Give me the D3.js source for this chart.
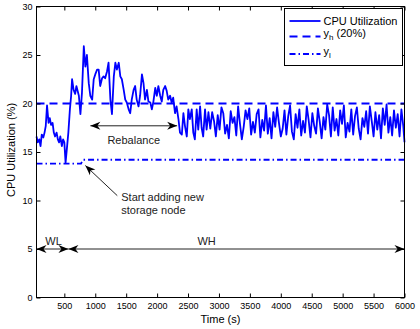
<!DOCTYPE html>
<html>
<head>
<meta charset="utf-8">
<script src="https://cdn.jsdelivr.net/npm/d3@7"></script>
<style>
  body { margin: 0; background: #fff; }
  svg { font-family: "Liberation Sans", Arial, Helvetica, sans-serif; }
</style>
</head>
<body>
<svg id="chart" width="420" height="329"></svg>
<script>

// CPU utilization trace, [time (s), utilization (%)]
const cpuTrace = [
  [50,16.6],[70,16.0],[95,16.3],[115,15.6],[135,16.8],[160,16.5],[180,17.0],[200,17.7],
  [220,19.8],[245,18.0],[265,18.5],[285,17.8],[310,18.0],[330,17.0],[350,16.6],[375,17.0],
  [395,16.3],[415,16.0],[435,16.6],[460,15.6],[480,16.3],[500,16.0],[520,13.9],[545,15.6],
  [565,17.0],[590,19.4],[610,20.8],[625,22.5],[650,21.4],[675,21.0],[695,21.8],[735,20.8],
  [760,18.9],[785,21.1],[815,25.9],[840,23.8],[865,25.0],[895,22.1],[920,20.8],[950,20.4],
  [975,22.5],[1000,23.0],[1030,23.5],[1055,23.5],[1080,21.8],[1110,22.6],[1135,22.8],[1160,22.6],
  [1190,23.3],[1215,24.2],[1245,20.4],[1270,18.9],[1300,22.8],[1325,24.2],[1350,23.5],[1380,24.2],
  [1405,22.8],[1430,22.5],[1460,21.4],[1485,20.4],[1510,20.1],[1540,19.4],[1565,19.0],[1590,20.4],
  [1620,21.4],[1645,21.8],[1670,20.4],[1700,19.7],[1725,20.8],[1755,23.0],[1780,22.1],[1805,20.4],
  [1835,21.4],[1860,20.2],[1890,20.1],[1915,19.4],[1940,20.2],[1970,21.6],[1995,20.8],[2020,21.8],
  [2050,20.8],[2075,20.2],[2100,21.4],[2130,21.8],[2155,21.3],[2180,20.4],[2210,20.8],[2235,20.1],
  [2260,20.6],[2290,19.0],[2315,19.7],[2345,18.4],[2370,17.0],[2400,16.8],[2425,19.0],[2450,17.7],
  [2480,16.6],[2505,19.4],[2530,18.4],[2560,19.4],[2585,17.0],[2610,16.3],[2640,19.4],[2665,17.3],
  [2695,19.7],[2720,17.5],[2745,16.6],[2775,19.4],[2800,17.3],[2830,19.1],
  [2860,17.4],[2890,19.1],[2920,18.2],[2950,16.6],[2980,18.8],[3010,17.3],[3040,19.6],[3070,19.0],
  [3100,16.9],[3130,17.8],[3160,16.4],[3190,19.2],[3220,18.0],[3250,18.6],[3280,16.7],[3310,19.7],
  [3340,17.9],[3370,16.3],[3400,17.6],[3430,19.3],[3460,18.4],[3490,19.5],[3520,16.8],[3550,18.1],
  [3580,17.0],[3610,18.9],[3640,19.4],[3670,16.5],[3700,18.3],[3730,17.2],[3760,19.8],[3790,16.9],
  [3820,18.5],[3850,16.4],[3880,19.1],[3910,17.6],[3940,19.6],[3970,18.0],[4000,16.6],[4030,17.4],
  [4060,19.3],[4090,16.8],[4120,18.7],[4150,19.8],[4180,17.1],[4210,16.3],[4240,18.9],[4270,17.5],
  [4300,19.4],[4330,16.7],[4360,18.2],[4390,17.0],[4420,19.7],[4450,18.3],[4480,16.5],[4510,19.0],
  [4540,17.7],[4570,16.9],[4600,19.5],[4630,18.1],[4660,16.4],[4690,18.6],[4720,17.3],[4750,19.9],
  [4780,18.8],[4810,16.6],[4840,19.6],[4870,17.2],[4900,18.4],[4930,16.7],[4960,19.3],[4990,17.9],
  [5020,19.8],[5050,16.5],[5080,18.0],[5110,17.1],[5140,19.4],[5170,16.8],[5200,18.7],[5230,19.6],
  [5260,17.4],[5290,16.3],[5320,18.5],[5350,17.6],[5380,19.2],[5410,16.9],[5440,19.7],[5470,18.2],
  [5500,16.6],[5530,19.1],[5560,17.3],[5590,18.8],[5620,16.4],[5650,19.5],[5680,17.8],[5710,19.9],
  [5740,17.0],[5770,18.6],[5800,16.7],[5830,19.3],[5860,17.5],[5890,18.9],[5920,16.6],[5950,19.4],
  [5980,17.7],[6000,16.0]
];

// thresholds
const yhLevel = [[50, 20], [6000, 20]];
const ylLevel = [[50, 13.8], [770, 13.8], [800, 14.2], [6000, 14.2]];

// axes
const xTicks = [500, 1000, 1500, 2000, 2500, 3000, 3500, 4000, 4500, 5000, 5500, 6000];
const yTicks = [0, 5, 10, 15, 20, 25, 30];
const xDomain = [50, 6000];
const yDomain = [0, 30];

// workload phases at y = 5
const phases = [
  {label: "WL", from: 50, to: 566},
  {label: "WH", from: 566, to: 6000}
];

var svg = d3.select("#chart");
var pLeft = 36.5, pRight = 404.5, pTop = 6.5, pBottom = 297.5;

var x = d3.scaleLinear().domain(xDomain).range([pLeft, pRight]);
var y = d3.scaleLinear().domain(yDomain).range([pBottom, pTop]);

var blue = "#0000ff";

// arrow heads
var defs = svg.append("defs");
defs.append("marker")
  .attr("id", "head")
  .attr("viewBox", "-11 -5 12 10")
  .attr("refX", 0).attr("refY", 0)
  .attr("markerWidth", 12).attr("markerHeight", 10)
  .attr("markerUnits", "userSpaceOnUse")
  .attr("orient", "auto-start-reverse")
  .append("path")
  .attr("d", "M0,0 L-10,-4 L-7,0 L-10,4 Z")
  .attr("fill", "#000");

// series
var line = d3.line()
  .x(d => x(d[0]))
  .y(d => y(d[1]));

svg.append("path")
  .datum(yhLevel)
  .attr("d", line)
  .attr("fill", "none")
  .attr("stroke", blue)
  .attr("stroke-width", 1.8)
  .attr("stroke-dasharray", "8,5");

svg.append("path")
  .datum(ylLevel)
  .attr("d", line)
  .attr("fill", "none")
  .attr("stroke", blue)
  .attr("stroke-width", 1.8)
  .attr("stroke-dasharray", "6,3,1.5,3");

svg.append("path")
  .datum(cpuTrace)
  .attr("d", line)
  .attr("fill", "none")
  .attr("stroke", blue)
  .attr("stroke-width", 1.8)
  .attr("stroke-linejoin", "round");

// annotations
var ann = svg.append("g").attr("stroke", "#222").attr("stroke-width", 1);

ann.append("line")
  .attr("x1", x(921)).attr("x2", x(2324))
  .attr("y1", y(17.7)).attr("y2", y(17.7))
  .attr("marker-start", "url(#head)")
  .attr("marker-end", "url(#head)");

ann.append("line")
  .attr("x1", x(1356)).attr("y1", y(10.5))
  .attr("x2", x(840)).attr("y2", y(13.6))
  .attr("marker-end", "url(#head)");

ann.selectAll("line.phase")
  .data(phases)
  .enter().append("line")
  .attr("class", "phase")
  .attr("x1", d => x(d.from)).attr("x2", d => x(d.to))
  .attr("y1", y(5)).attr("y2", y(5))
  .attr("marker-start", "url(#head)")
  .attr("marker-end", "url(#head)");

var txt = svg.append("g").attr("font-size", 11).attr("fill", "#222");

txt.append("text")
  .attr("x", x(1622)).attr("y", y(17.7) + 18)
  .attr("text-anchor", "middle")
  .text("Rebalance");

txt.append("text")
  .attr("x", x(1421)).attr("y", y(10.5) + 5)
  .text("Start adding new");

txt.append("text")
  .attr("x", x(1421)).attr("y", y(10.5) + 18)
  .text("storage node");

txt.selectAll("text.phase")
  .data(phases)
  .enter().append("text")
  .attr("class", "phase")
  .attr("x", d => d.label === "WL" ? x(d.from) + 17 : x(2800))
  .attr("y", y(5) - 4)
  .attr("text-anchor", "middle")
  .text(d => d.label);

// axes, inward ticks on all four sides
function styleAxis(g) {
  g.select(".domain").remove();
  g.selectAll("text").attr("font-size", 9).attr("fill", "#000")
    .attr("font-family", "\"Liberation Sans\", Arial, Helvetica, sans-serif");
  g.selectAll("line").attr("stroke", "#000");
}

svg.append("g")
  .attr("transform", "translate(0," + pBottom + ")")
  .call(d3.axisBottom(x).tickValues(xTicks).tickFormat(d3.format("d"))
    .tickSizeInner(-4).tickSizeOuter(0).tickPadding(5))
  .call(styleAxis);

svg.append("g")
  .attr("transform", "translate(0," + pTop + ")")
  .call(d3.axisTop(x).tickValues(xTicks).tickSizeInner(-4).tickSizeOuter(0).tickFormat(""))
  .call(styleAxis);

svg.append("g")
  .attr("transform", "translate(" + pLeft + ",0)")
  .call(d3.axisLeft(y).tickValues(yTicks).tickFormat(d3.format("d"))
    .tickSizeInner(-4).tickSizeOuter(0).tickPadding(4))
  .call(styleAxis);

svg.append("g")
  .attr("transform", "translate(" + pRight + ",0)")
  .call(d3.axisRight(y).tickValues(yTicks).tickSizeInner(-4).tickSizeOuter(0).tickFormat(""))
  .call(styleAxis);

svg.append("rect")
  .attr("x", pLeft).attr("y", pTop)
  .attr("width", pRight - pLeft).attr("height", pBottom - pTop)
  .attr("fill", "none")
  .attr("stroke", "#000")
  .attr("stroke-width", 1);

// axis titles
svg.append("text")
  .attr("x", (pLeft + pRight) / 2).attr("y", 323)
  .attr("text-anchor", "middle")
  .attr("font-size", 11)
  .text("Time (s)");

svg.append("text")
  .attr("transform", "translate(15,150)rotate(-90)")
  .attr("text-anchor", "middle")
  .attr("font-size", 11)
  .text("CPU Utilization (%)");

// legend
var legend = svg.append("g").attr("transform", "translate(284.5,8.5)");

legend.append("rect")
  .attr("width", 118).attr("height", 57)
  .attr("fill", "#fff")
  .attr("stroke", "#000");

var legendRows = [
  {dash: null, dy: 12.5},
  {dash: "8,5", dy: 28},
  {dash: "6,3,1.5,3", dy: 45.5}
];

legend.selectAll("line.key")
  .data(legendRows)
  .enter().append("line")
  .attr("class", "key")
  .attr("x1", 5).attr("x2", 36)
  .attr("y1", d => d.dy).attr("y2", d => d.dy)
  .attr("stroke", blue)
  .attr("stroke-width", 1.8)
  .attr("stroke-dasharray", d => d.dash);

legend.append("text")
  .attr("x", 39).attr("y", 16.5)
  .attr("font-size", 11)
  .text("CPU Utilization");

var yh = legend.append("text")
  .attr("x", 39).attr("y", 28)
  .attr("font-size", 11);
yh.append("tspan").text("y");
yh.append("tspan").attr("font-size", 8).attr("dy", 3).text("h");
yh.append("tspan").attr("dy", -3).text(" (20%)");

var yl = legend.append("text")
  .attr("x", 39).attr("y", 46)
  .attr("font-size", 11);
yl.append("tspan").text("y");
yl.append("tspan").attr("font-size", 8).attr("dy", 3).text("l");

</script>
</body>
</html>
